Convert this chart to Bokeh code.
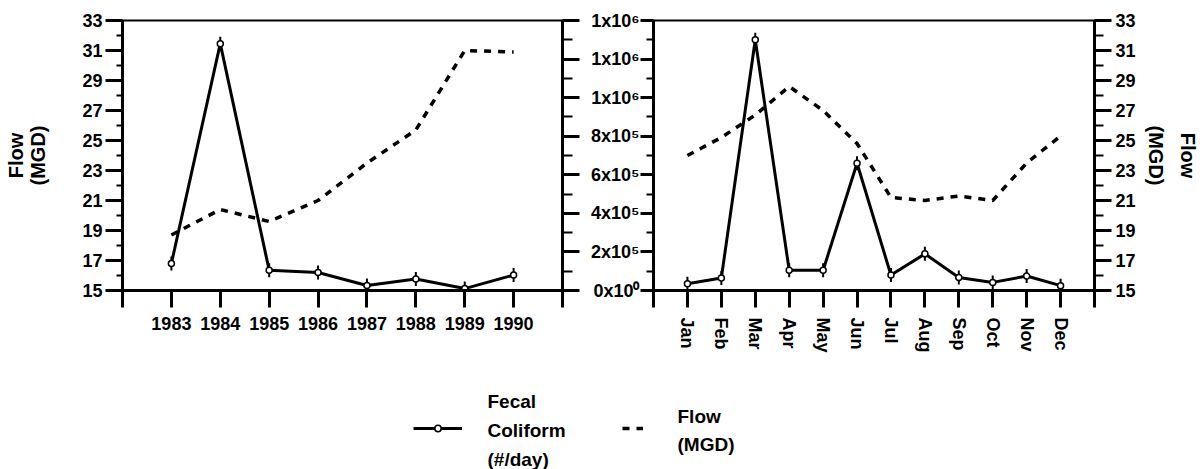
import numpy as np
from bokeh.plotting import figure
from bokeh.models import Range1d, LinearAxis, FixedTicker, Legend, LegendItem, Label
from bokeh.layouts import column, row
from bokeh.embed import file_html
from bokeh.resources import INLINE

# ---------------- data ----------------
years = [1983, 1984, 1985, 1986, 1987, 1988, 1989, 1990]
year_flow = [18.7, 20.4, 19.6, 21.0, 23.5, 25.7, 31.0, 30.9]
year_coliform = [1.4e5, 1.28e6, 1.05e5, 0.93e5, 0.26e5, 0.6e5, 0.1e5, 0.8e5]

months = ["Jan", "Feb", "Mar", "Apr", "May", "Jun", "Jul", "Aug", "Sep", "Oct", "Nov", "Dec"]
month_flow = [24.0, 25.2, 26.7, 28.6, 27.0, 24.8, 21.2, 21.0, 21.3, 21.0, 23.5, 25.3]
month_coliform = [0.35e5, 0.65e5, 1.3e6, 1.05e5, 1.05e5, 6.6e5, 0.8e5, 1.9e5, 0.67e5, 0.42e5, 0.75e5, 0.25e5]

flow_ticks = [15, 17, 19, 21, 23, 25, 27, 29, 31, 33]
flow_minor = list(range(15, 34))
coliform_ticks = [0, 200000, 400000, 600000, 800000, 1000000, 1200000, 1400000]
coliform_minor = list(range(0, 1400001, 100000))
coliform_tick_labels = ["0x10\u2070", "2x10\u2075", "4x10\u2075", "6x10\u2075",
                        "8x10\u2075", "1x10\u2076", "1x10\u2076", "1x10\u2076"]
year_ticks = list(range(1982, 1992))
month_ticks = list(range(0, 14))

flow_title_lines = ["Flow", "(MGD)"]
legend_coliform = "Fecal\nColiform\n(#/day)"
legend_flow = "Flow\n(MGD)"

FONT = "Liberation Sans"
TICK_SIZE = "18px"

def base_axis(ax, major_out, minor_out, standoff):
    ax.axis_line_width = 3
    ax.axis_line_color = "black"
    ax.major_tick_line_width = 3
    ax.minor_tick_line_width = 2
    ax.major_tick_out = major_out
    ax.major_tick_in = 0
    ax.minor_tick_out = minor_out
    ax.minor_tick_in = 0
    ax.major_label_standoff = standoff
    ax.major_label_text_font = FONT
    ax.major_label_text_font_style = "bold"
    ax.major_label_text_font_size = TICK_SIZE
    ax.major_label_text_color = "black"
    ax.axis_label_text_font = FONT
    ax.axis_label_text_font_style = "bold"
    ax.axis_label_text_font_size = "20px"
    ax.axis_label_text_color = "black"
    ax.axis_label_text_line_height = 1.0

def make_fig(width, x_range, y_range, bl, br):
    p = figure(width=width, height=360, x_range=x_range, y_range=y_range,
               output_backend="svg", toolbar_location=None,
               min_border_left=bl, min_border_right=br,
               min_border_top=20, min_border_bottom=70)
    p.xgrid.visible = False
    p.ygrid.visible = False
    p.outline_line_color = "black"
    p.outline_line_width = 2
    p.background_fill_color = "white"
    p.border_fill_color = "white"
    return p

# ---------------- left panel (years) ----------------
p1 = make_fig(581, Range1d(1982, 1991), Range1d(15, 33), 122, 19)
p1.extra_y_ranges = {"fc": Range1d(0, 1400000)}

p1.line(years, year_flow, line_color="black", line_width=3.5, line_dash="7 7")
p1.line(years, year_coliform, y_range_name="fc", line_color="black", line_width=3)
p1.scatter(years, year_coliform, y_range_name="fc", marker="dash", angle=np.pi / 2,
           size=14, line_color="black", line_width=2)
p1.scatter(years, year_coliform, y_range_name="fc", marker="circle", size=6,
           fill_color="white", line_color="black", line_width=1.5)

ly = p1.yaxis[0]
ly.ticker = FixedTicker(ticks=flow_ticks, minor_ticks=flow_minor)
base_axis(ly, 17, 6, 3)
ly.axis_label = "\n".join(flow_title_lines)
ly.axis_label_standoff = 30

bx = p1.xaxis[0]
bx.ticker = FixedTicker(ticks=year_ticks, minor_ticks=[])
base_axis(bx, 17, 0, 9)
bx.major_label_overrides = {1982: "", 1991: ""}

ry = LinearAxis(y_range_name="fc",
                ticker=FixedTicker(ticks=coliform_ticks, minor_ticks=coliform_minor))
base_axis(ry, 17, 10, 0)
ry.major_label_overrides = {t: "" for t in coliform_ticks}
p1.add_layout(ry, "right")

# ---------------- right panel (months) ----------------
month_x = list(range(1, 13))
p2 = make_fig(623, Range1d(0, 13), Range1d(0, 1400000), 72, 110)
p2.extra_y_ranges = {"flow": Range1d(15, 33)}

p2.line(month_x, month_flow, y_range_name="flow", line_color="black", line_width=3.5, line_dash="7 7")
p2.line(month_x, month_coliform, line_color="black", line_width=3)
p2.scatter(month_x, month_coliform, marker="dash", angle=np.pi / 2, size=14,
           line_color="black", line_width=2)
p2.scatter(month_x, month_coliform, marker="circle", size=6,
           fill_color="white", line_color="black", line_width=1.5)

cy = p2.yaxis[0]
cy.ticker = FixedTicker(ticks=coliform_ticks, minor_ticks=coliform_minor)
base_axis(cy, 13, 7, 1)
cy.major_label_overrides = dict(zip(coliform_ticks, coliform_tick_labels))

mx = p2.xaxis[0]
mx.ticker = FixedTicker(ticks=month_ticks, minor_ticks=[])
base_axis(mx, 17, 0, 10)
ovr = {0: "", 13: ""}
ovr.update(dict(zip(month_x, months)))
mx.major_label_overrides = ovr
mx.major_label_orientation = "vertical"

# right flow axis: inner title line "(MGD)", outer line "Flow" on a bare axis
fy = LinearAxis(y_range_name="flow",
                ticker=FixedTicker(ticks=flow_ticks, minor_ticks=flow_minor))
base_axis(fy, 17, 9, 4)
fy.axis_label = flow_title_lines[1]
fy.axis_label_standoff = 6
p2.add_layout(fy, "right")

fy2 = LinearAxis(y_range_name="flow", ticker=FixedTicker(ticks=[], minor_ticks=[]))
base_axis(fy2, 0, 0, 0)
fy2.axis_line_color = None
fy2.axis_label = flow_title_lines[0]
fy2.axis_label_standoff = 7
p2.add_layout(fy2, "right")

# ---------------- legend strip ----------------
p3 = figure(width=1204, height=109, x_range=Range1d(0, 1), y_range=Range1d(0, 1),
            output_backend="svg", toolbar_location=None,
            min_border_left=0, min_border_right=0, min_border_top=0, min_border_bottom=0)
p3.axis.visible = False
p3.xgrid.visible = False
p3.ygrid.visible = False
p3.outline_line_color = None

nan = [np.nan]
lg_line = p3.line(nan, nan, line_color="black", line_width=3)
lg_circ = p3.scatter(nan, nan, marker="circle", size=6, fill_color="white",
                     line_color="black", line_width=1.5)
lg_flow = p3.line(nan, nan, line_color="black", line_width=3.5, line_dash="7 7")

def legend_style(lg):
    lg.padding = 0
    lg.margin = 0
    lg.border_line_color = None
    lg.background_fill_alpha = 0
    lg.label_text_font_size = "10px"
    lg.label_height = 8

leg1 = Legend(items=[LegendItem(label=" ", renderers=[lg_line, lg_circ])],
              location=(413, 33), glyph_width=49, glyph_height=16, label_standoff=0)
legend_style(leg1)
p3.add_layout(leg1, "center")

leg2 = Legend(items=[LegendItem(label=" ", renderers=[lg_flow])],
              location=(622, 33), glyph_width=21, glyph_height=16, label_standoff=0)
legend_style(leg2)
p3.add_layout(leg2, "center")

for txt, xs in [(legend_coliform, 487), (legend_flow, 677)]:
    p3.add_layout(Label(x=xs, y=39, x_units="screen", y_units="screen", text=txt,
                        text_align="left", text_baseline="middle", text_line_height=1.36,
                        text_font=FONT, text_font_style="bold", text_font_size="19px",
                        text_color="black"))

layout = column(row(p1, p2), p3)
open("out.html", "w").write(file_html(layout, INLINE))
